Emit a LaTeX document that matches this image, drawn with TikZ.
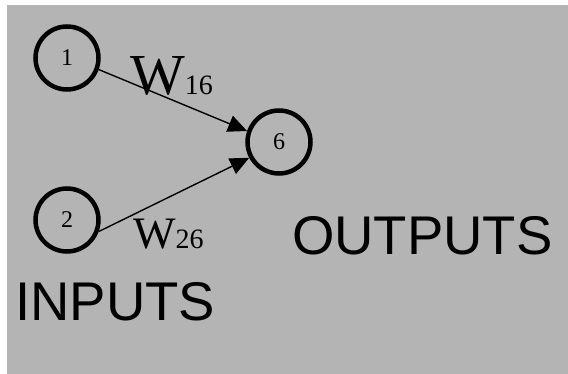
\documentclass[tikz,border=0pt]{standalone}
\usepackage{fontspec}
\setmainfont{Liberation Serif}
\newfontfamily\labelsans{Liberation Sans}
\usetikzlibrary{arrows.meta}
\definecolor{panelgray}{RGB}{180,180,180}
\tikzset{
  neuron/.style={circle, draw=black, line width=4.5pt, minimum size=63pt,
    inner sep=0pt, font=\fontsize{24}{24}\selectfont},
  weight/.style={draw=black, line width=1.4pt,
    -{Triangle[length=19pt,width=17pt]}},
  caption/.style={anchor=base west, inner sep=0pt,
    font=\labelsans\fontsize{54.5}{54.5}\selectfont},
  wlabel/.style={anchor=base west, inner sep=0pt}
}
\begin{document}
\begin{tikzpicture}[x=1pt,y=-1pt]
  \useasboundingbox (0,0) rectangle (568,374);
  \fill[white] (0,0) rectangle (568,374);
  \fill[panelgray] (7,5) rectangle (568,374);

  % neurons
  \node[neuron] (n1) at (67,58) {1};
  \node[neuron] (n2) at (67,220) {2};
  \node[neuron] (n6) at (279,142) {6};

  % weighted connections
  \draw[weight] (n1.-20) -- (n6.161);
  \draw[weight] (n2.-20) -- (n6.208);

  % weight labels
  \node[wlabel] (w16) at (130,95)
    {\fontsize{58}{58}\selectfont W\fontsize{28}{28}\selectfont 16};
  \node[wlabel] (w26) at (133,249)
    {\fontsize{45}{45}\selectfont W\fontsize{28}{28}\selectfont 26};

  % layer captions
  \node[caption] (inputs) at (15,320) {INPUTS};
  \node[caption] (outputs) at (292,255) {OUTPUTS};
\end{tikzpicture}
\end{document}
